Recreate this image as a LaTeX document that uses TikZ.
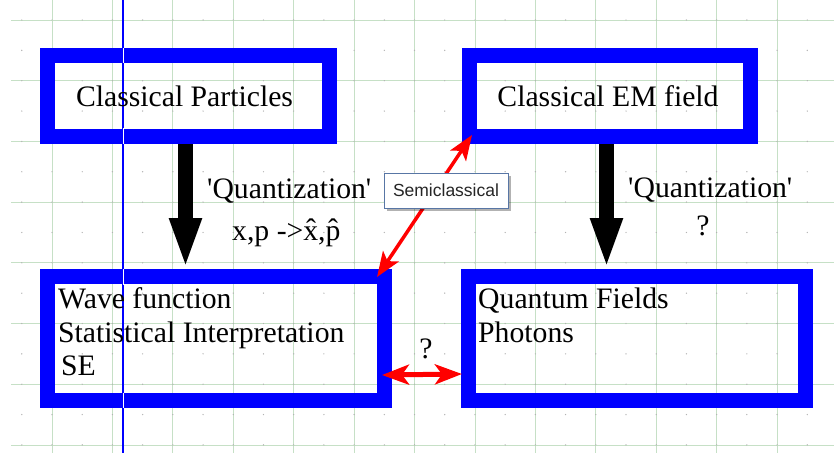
\documentclass[tikz,border=0pt]{standalone}
\usepackage{fontspec}
\setmainfont{Liberation Serif}
\newfontfamily\arialf{Liberation Sans}
\usetikzlibrary{arrows.meta,shadows}
\definecolor{gridgreen}{RGB}{198,224,198}
\definecolor{boxblue}{RGB}{0,0,255}
\definecolor{calloutborder}{RGB}{88,118,165}
\definecolor{arrowred}{RGB}{255,0,0}
\newcommand\mytxtfont{\fontsize{29.7}{33.5}\selectfont}
\begin{document}
\begin{tikzpicture}[x=1pt,y=-1pt,
  gridline/.style={draw=gridgreen,line width=0.8pt},
  qbox/.style={draw=boxblue,line width=15pt,inner sep=0pt,font=\mytxtfont,text=black},
  txt/.style={inner sep=0pt,font=\mytxtfont,anchor=base west,text=black},
  bigarrow/.style={draw=black,line width=15pt,-{Triangle[width=29pt,length=51pt]}},
  redarrow/.style={draw=arrowred,line width=3.5pt,{Stealth[width=19pt,length=25pt,inset=6pt]}-{Stealth[width=19pt,length=25pt,inset=6pt]}},
  hredarrow/.style={draw=arrowred,line width=5pt,{Stealth[width=20pt,length=27pt,inset=7pt]}-{Stealth[width=20pt,length=27pt,inset=7pt]}},
  callout/.style={draw=calloutborder,line width=0.9pt,fill=white,inner sep=0pt,
    minimum width=124pt,minimum height=35pt,font=\arialf\fontsize{17.5}{20}\selectfont,text=black!85,
    drop shadow={shadow xshift=3pt,shadow yshift=-3pt,fill=black,opacity=0.3}}
]
\useasboundingbox (0,0) rectangle (834,456);
\fill[white] (0,0) rectangle (834,456);
% grid
\foreach \i in {0,...,12} \draw[gridline] ({52+60.42*\i},0) -- ({52+60.42*\i},453);
\foreach \j in {0,...,7} \draw[gridline] (11,{20+60.7*\j}) -- (834,{20+60.7*\j});
\foreach \i in {0,...,27} \foreach \j in {0,...,14}
  \fill[black!30] ({21.8+30.21*\i},{20+30.35*\j}) circle[radius=0.7pt];
% blue vertical cursor line
\draw[boxblue,line width=1.3pt] (123,0) -- (123,453);
% boxes
\node[qbox,minimum width=282pt,minimum height=81pt] (cp) at (188.5,96) {Classical Particles\hspace*{8pt}};
\node[qbox,minimum width=281pt,minimum height=81pt] (em) at (610,96) {Classical EM field\hspace*{4pt}};
\node[qbox,minimum width=337pt,minimum height=124pt] (wf) at (216,338.5) {};
\node[qbox,minimum width=337pt,minimum height=124pt] (qf) at (637,338.5) {};
% white gaps of the cursor line on the blue borders
\foreach \a/\b in {48/63,128/144,269/285,393/408}
  \draw[white,line width=1pt] (123,\a) -- (123,\b);
% box texts
\node[txt] (wf1) at (58,308) {Wave function};
\node[txt] (wf2) at (58,342) {Statistical Interpretation};
\node[txt] (wf3) at (61,375) {SE};
\node[txt] (qf1) at (478,308) {Quantum Fields};
\node[txt] (qf2) at (478,342) {Photons};
% quantization arrows
\coordinate (a1) at ([xshift=-3pt]cp.south);
\coordinate (a2) at ([xshift=-3.5pt]em.south);
\draw[bigarrow] (a1) -- (a1 |- wf.north);
\draw[bigarrow] (a2) -- (a2 |- qf.north);
\node[txt] (q1) at (207,198) {\textquotesingle Quantization\textquotesingle};
\node[txt] (xp) at (232,240) {x,p ->\^{x},\^{p}};
\node[txt] (q2) at (628,197) {\textquotesingle Quantization\textquotesingle};
\node[txt,anchor=base] (qm1) at (703,235) {?};
% semiclassical arrow
\coordinate (s1) at ([xshift=-15pt,yshift=-8pt]wf.north east);
\coordinate (s2) at ([xshift=10pt,yshift=9pt]em.south west);
\draw[redarrow] (s1) -- (s2);
\node[callout] (semi) at (446,190.5) {Semiclassical};
% horizontal arrow
\coordinate (h1) at ([xshift=-10pt,yshift=-36.5pt]wf.east);
\coordinate (h2) at ([xshift=1pt,yshift=-35.5pt]qf.west);
\draw[hredarrow] (h1) -- (h2);
\node[txt,anchor=base] (qm2) at (426,358) {?};
\end{tikzpicture}
\end{document}
